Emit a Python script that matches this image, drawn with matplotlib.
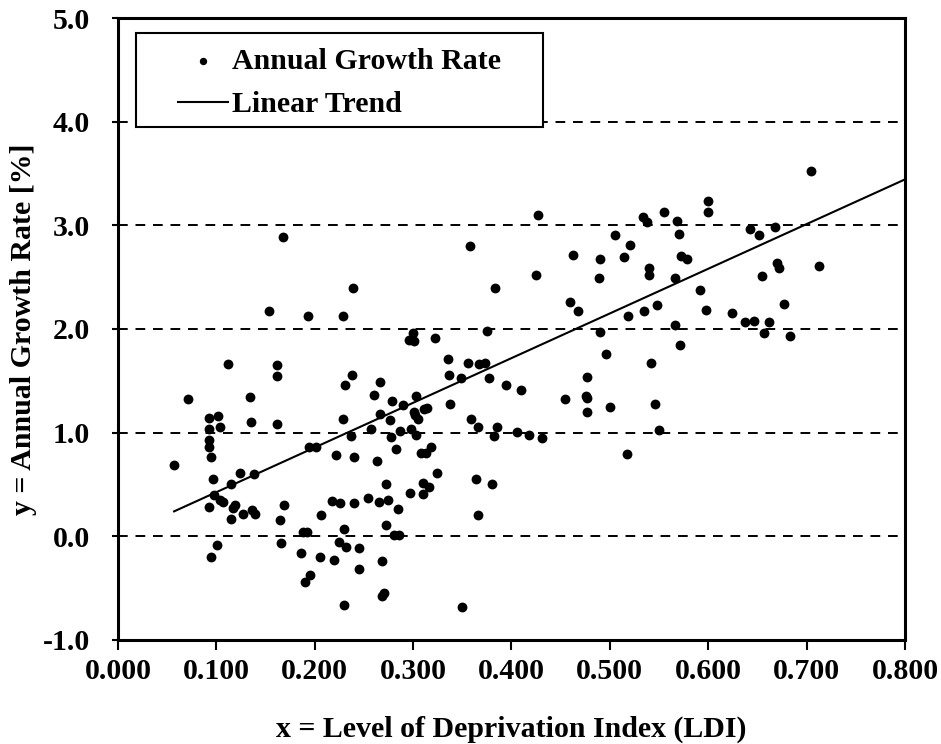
import numpy as np
import matplotlib
matplotlib.use("Agg")
import matplotlib.pyplot as plt
from matplotlib.patches import Rectangle

plt.rcParams['font.family'] = ['Liberation Serif', 'DejaVu Serif']
plt.rcParams['font.weight'] = 'bold'

# LDI values and annual growth rate [%]
ldi = [0.057, 0.071, 0.092, 0.092, 0.092, 0.092, 0.093, 0.095, 0.095, 0.097, 0.098,
       0.101, 0.102, 0.104, 0.104, 0.107, 0.112, 0.115, 0.115, 0.117, 0.119, 0.124,
       0.127, 0.134, 0.135, 0.136, 0.138, 0.139, 0.154, 0.162, 0.162, 0.162, 0.165,
       0.166, 0.168, 0.169, 0.186, 0.188, 0.190, 0.192, 0.193, 0.194, 0.195, 0.201,
       0.205, 0.206, 0.218, 0.220, 0.222, 0.225, 0.226, 0.229, 0.229, 0.230, 0.230,
       0.231, 0.232, 0.237, 0.238, 0.239, 0.240, 0.240, 0.245, 0.245, 0.254, 0.257,
       0.260, 0.263, 0.265, 0.266, 0.266, 0.268, 0.268, 0.270, 0.272, 0.272, 0.274,
       0.277, 0.278, 0.279, 0.281, 0.283, 0.285, 0.286, 0.287, 0.290, 0.296, 0.297,
       0.298, 0.300, 0.301, 0.301, 0.302, 0.303, 0.303, 0.305, 0.308, 0.310, 0.310,
       0.311, 0.313, 0.314, 0.316, 0.318, 0.322, 0.324, 0.335, 0.336, 0.338, 0.349,
       0.350, 0.356, 0.358, 0.359, 0.364, 0.366, 0.366, 0.367, 0.373, 0.375, 0.377,
       0.380, 0.382, 0.383, 0.385, 0.394, 0.406, 0.410, 0.418, 0.425, 0.427, 0.431,
       0.454, 0.459, 0.463, 0.468, 0.476, 0.477, 0.477, 0.477, 0.489, 0.490, 0.490,
       0.496, 0.500, 0.505, 0.514, 0.517, 0.518, 0.520, 0.534, 0.535, 0.538, 0.540,
       0.540, 0.542, 0.546, 0.548, 0.550, 0.555, 0.566, 0.566, 0.568, 0.570, 0.571,
       0.572, 0.578, 0.592, 0.598, 0.600, 0.600, 0.624, 0.637, 0.642, 0.647, 0.652,
       0.655, 0.657, 0.662, 0.668, 0.670, 0.672, 0.677, 0.683, 0.704, 0.713]
growth = [0.69, 1.32, 1.14, 1.04, 0.93, 0.86, 0.28, 0.77, -0.20, 0.55, 0.40,
          -0.08, 1.16, 1.05, 0.35, 0.33, 1.66, 0.17, 0.50, 0.27, 0.30, 0.61,
          0.22, 1.34, 1.10, 0.25, 0.60, 0.22, 2.17, 1.65, 1.55, 1.08, 0.16,
          -0.06, 2.89, 0.30, -0.16, 0.04, -0.44, 0.04, 2.13, 0.86, -0.37, 0.86,
          -0.20, 0.21, 0.34, -0.23, 0.78, -0.05, 0.32, 2.13, 1.13, 0.07, -0.66,
          1.46, -0.10, 0.97, 1.56, 2.40, 0.77, 0.32, -0.11, -0.32, 0.37, 1.04,
          1.36, 0.73, 0.33, 1.18, 1.49, -0.24, -0.58, -0.55, 0.11, 0.50, 0.35,
          1.12, 0.96, 1.31, 0.01, 0.84, 0.26, 0.01, 1.02, 1.27, 1.89, 0.42,
          1.04, 1.96, 1.88, 1.20, 1.17, 1.35, 0.98, 1.13, 0.80, 0.51, 0.41,
          1.23, 0.80, 1.24, 0.48, 0.86, 1.91, 0.61, 1.71, 1.56, 1.28, 1.53,
          -0.68, 1.67, 2.80, 1.13, 0.55, 1.05, 0.21, 1.66, 1.67, 1.98, 1.53,
          0.50, 0.97, 2.40, 1.05, 1.46, 1.01, 1.41, 0.98, 2.52, 3.10, 0.95,
          1.32, 2.26, 2.71, 2.17, 1.35, 1.54, 1.20, 1.33, 2.49, 2.68, 1.97,
          1.76, 1.25, 2.91, 2.69, 0.79, 2.13, 2.81, 3.08, 2.17, 3.03, 2.59,
          2.52, 1.67, 1.28, 2.23, 1.03, 3.13, 2.04, 2.49, 3.04, 2.92, 1.85,
          2.70, 2.68, 2.38, 2.18, 3.23, 3.13, 2.15, 2.07, 2.96, 2.08, 2.91,
          2.51, 1.96, 2.07, 2.98, 2.64, 2.59, 2.24, 1.93, 3.52, 2.61]

# linear trend y = a*x + b, drawn between these x limits
trend_slope = 4.31
trend_intercept = -0.005
trend_x = [0.057, 0.800]

fs = 21.5

fig = plt.figure(figsize=(9.41, 7.44), dpi=100)
ax = fig.add_axes([0.1254, 0.1398, 0.8363, 0.8360])

for yv in [0, 1, 2, 3, 4]:
    ax.axhline(yv, color='black', linestyle=(0, (5, 4)), linewidth=1.4, zorder=1)

ax.scatter(ldi, growth, s=50, color='black', linewidths=0, zorder=3, label='Annual Growth Rate')
tx = np.array(trend_x)
ax.plot(tx, trend_slope * tx + trend_intercept, color='black', linewidth=1.5,
        zorder=2, label='Linear Trend')

ax.set_xlim(0, 0.8)
ax.set_ylim(-1, 5)
ax.set_xticks(np.arange(0, 0.81, 0.1))
ax.set_xticklabels(['%.3f' % v for v in np.arange(0, 0.81, 0.1)])
ax.set_yticks(np.arange(-1, 5.1, 1))
ax.set_yticklabels(['%.1f' % v for v in np.arange(-1, 5.1, 1)])
ax.tick_params(labelsize=fs, width=1.5, direction='out')
ax.tick_params(axis='x', length=7, pad=6)
ax.tick_params(axis='y', length=4, pad=16)
for sp in ax.spines.values():
    sp.set_linewidth(2.2)

ax.set_xlabel('x = Level of Deprivation Index (LDI)', fontsize=fs, fontweight='bold', labelpad=22)
ax.set_ylabel('y = Annual Growth Rate [%]', fontsize=fs, fontweight='bold', labelpad=4)

# legend frame drawn as its own box, legend entries placed inside it
box = Rectangle((0.1445, 0.8293), 0.4325, 0.1263, transform=fig.transFigure,
                facecolor='white', edgecolor='black', linewidth=1.5, zorder=4, clip_on=False)
ax.add_patch(box)
leg = ax.legend(loc='upper left', fontsize=fs, frameon=False, borderpad=0,
                handlelength=1.67, handletextpad=0.15, markerscale=0.75,
                labelspacing=0.55, bbox_to_anchor=(0.1733, 0.956),
                bbox_transform=fig.transFigure)
leg.set_zorder(5)

fig.savefig('out.png', dpi=100)
